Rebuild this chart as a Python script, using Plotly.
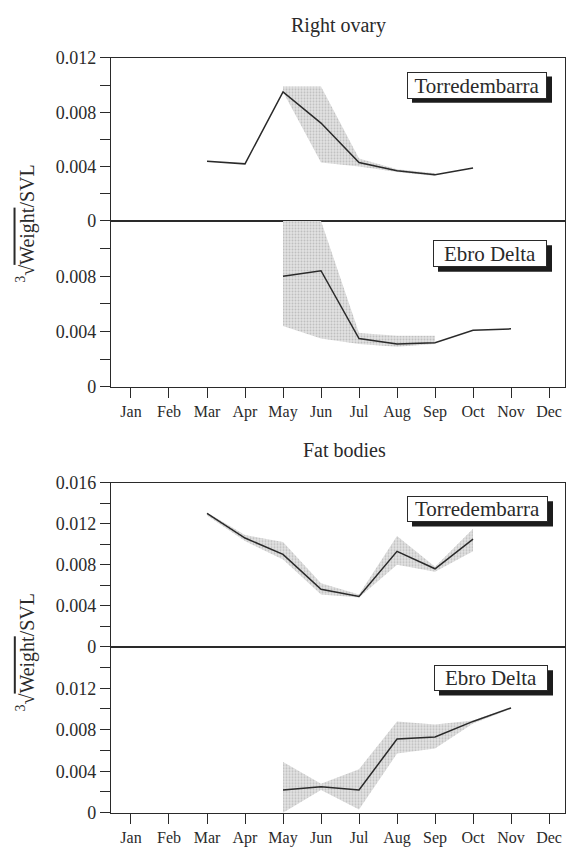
import plotly.graph_objects as go

months = ["Jan", "Feb", "Mar", "Apr", "May", "Jun", "Jul", "Aug", "Sep", "Oct", "Nov", "Dec"]
month_num = list(range(1, 13))

# Right ovary - Torredembarra
ov_torr_x = [3, 4, 5, 6, 7, 8, 9, 10]
ov_torr_mean = [0.0044, 0.0042, 0.0095, 0.0072, 0.0043, 0.0037, 0.0034, 0.0039]
ov_torr_band_x = [5, 6, 7, 8, 9]
ov_torr_lo = [0.0095, 0.0043, 0.0040, 0.0036, 0.0033]
ov_torr_hi = [0.0099, 0.0099, 0.0046, 0.0038, 0.0035]

# Right ovary - Ebro Delta
ov_ebro_x = [5, 6, 7, 8, 9, 10, 11]
ov_ebro_mean = [0.0080, 0.0084, 0.0035, 0.0031, 0.0032, 0.0041, 0.0042]
ov_ebro_band_x = [5, 6, 7, 8, 9]
ov_ebro_lo = [0.0044, 0.0035, 0.0031, 0.0029, 0.0031]
ov_ebro_hi = [0.0120, 0.0120, 0.0039, 0.0037, 0.0037]

# Fat bodies - Torredembarra
fb_torr_x = [3, 4, 5, 6, 7, 8, 9, 10]
fb_torr_mean = [0.0130, 0.0106, 0.0090, 0.0056, 0.0049, 0.0093, 0.0076, 0.0105]
fb_torr_band_x = [3, 4, 5, 6, 7, 8, 9, 10]
fb_torr_lo = [0.0128, 0.0103, 0.0085, 0.0051, 0.0048, 0.0080, 0.0073, 0.0093]
fb_torr_hi = [0.0131, 0.0109, 0.0102, 0.0062, 0.0051, 0.0108, 0.0078, 0.0115]

# Fat bodies - Ebro Delta
fb_ebro_x = [5, 6, 7, 8, 9, 10, 11]
fb_ebro_mean = [0.0022, 0.0025, 0.0022, 0.0071, 0.0073, 0.0088, 0.0101]
fb_ebro_band_x = [5, 6, 7, 8, 9, 10, 11]
fb_ebro_lo = [0.0000, 0.0022, 0.0003, 0.0057, 0.0062, 0.0086, 0.0100]
fb_ebro_hi = [0.0049, 0.0028, 0.0042, 0.0088, 0.0085, 0.0089, 0.0102]

FONT = "Liberation Serif, Times New Roman, serif"
INK = "#2a2a2a"

panels = [
    (ov_torr_x, ov_torr_mean, ov_torr_band_x, ov_torr_lo, ov_torr_hi),
    (ov_ebro_x, ov_ebro_mean, ov_ebro_band_x, ov_ebro_lo, ov_ebro_hi),
    (fb_torr_x, fb_torr_mean, fb_torr_band_x, fb_torr_lo, fb_torr_hi),
    (fb_ebro_x, fb_ebro_mean, fb_ebro_band_x, fb_ebro_lo, fb_ebro_hi),
]

fig = go.Figure()
for i, (x, m, bx, lo, hi) in enumerate(panels, start=1):
    xa = "x" if i == 1 else f"x{i}"
    ya = "y" if i == 1 else f"y{i}"
    fig.add_trace(go.Scatter(
        x=bx + bx[::-1], y=hi + lo[::-1], fill="toself",
        fillcolor="rgba(200,200,200,0.75)",
        fillpattern=dict(shape=".", bgcolor="#e2e2e2", fgcolor="#9a9a9a",
                         size=3, solidity=0.35),
        line=dict(width=0),
        mode="lines", hoverinfo="skip", showlegend=False, xaxis=xa, yaxis=ya))
    fig.add_trace(go.Scatter(
        x=x, y=m, mode="lines", line=dict(color=INK, width=1.5),
        showlegend=False, xaxis=xa, yaxis=ya))

W, H = 575, 853
xl, xr = 111, 565


def px(p):
    return p / W


def py(p):
    return 1 - p / H


ydoms = [(216, 49), (386, 216), (652, 484), (822, 652)]
yranges = [[0, 0.012], [0, 0.012], [0, 0.016], [0, 0.016]]
yticks = [
    ([0, 0.004, 0.008, 0.012], ["0", "0.004", "0.008", "0.012"]),
    ([0, 0.004, 0.008], ["0", "0.004", "0.008"]),
    ([0, 0.004, 0.008, 0.012, 0.016], ["0", "0.004", "0.008", "0.012", "0.016"]),
    ([0, 0.004, 0.008, 0.012], ["0", "0.004", "0.008", "0.012"]),
]

layout = dict(
    width=W, height=H, margin=dict(l=0, r=0, t=0, b=0),
    paper_bgcolor="white", plot_bgcolor="white",
    font=dict(family=FONT, color=INK),
    showlegend=False,
)
for i in range(1, 5):
    xk = "xaxis" if i == 1 else f"xaxis{i}"
    yk = "yaxis" if i == 1 else f"yaxis{i}"
    ya = "y" if i == 1 else f"y{i}"
    xa = "x" if i == 1 else f"x{i}"
    bottom = i in (2, 4)
    layout[xk] = dict(
        domain=[px(xl), px(xr)], range=[0.474, 12.42], anchor=ya,
        tickvals=month_num, ticktext=months,
        ticks="outside" if bottom else "", ticklen=10, tickcolor=INK,
        showticklabels=bottom, tickfont=dict(size=16, family=FONT, color=INK),
        showline=True, linecolor=INK, linewidth=1.2, mirror=True,
        showgrid=False, zeroline=False, fixedrange=True,
    )
    y0, y1 = ydoms[i - 1]
    tv, tt = yticks[i - 1]
    layout[yk] = dict(
        domain=[py(y0), py(y1)], range=yranges[i - 1], anchor=xa,
        tickvals=tv, ticktext=tt, ticks="outside", ticklen=10, tickcolor=INK,
        minor=dict(tickvals=[v / 1000 for v in range(2, 17, 4)], ticks="outside",
                   ticklen=10, tickcolor=INK, showgrid=False),
        tickfont=dict(size=18, family=FONT, color=INK),
        showline=True, linecolor=INK, linewidth=1.2, mirror=True,
        showgrid=False, zeroline=False, fixedrange=True,
    )

fig.update_layout(**layout)

ann = []
ann.append(dict(text="Right ovary", x=px(338), y=py(16), xref="paper", yref="paper",
                xanchor="center", yanchor="middle",
                showarrow=False, font=dict(size=20, family=FONT, color=INK)))
ann.append(dict(text="Fat bodies", x=px(344), y=py(451), xref="paper", yref="paper",
                xanchor="center", yanchor="middle",
                showarrow=False, font=dict(size=20, family=FONT, color=INK)))

ylabel = "<sup>3</sup>√<span style='text-decoration:overline'>Weight</span>/SVL"
for cy in (219, 658):
    ann.append(dict(text=ylabel, x=px(26), y=py(cy), xref="paper", yref="paper",
                    xanchor="center", yanchor="middle",
                    textangle=-90, showarrow=False,
                    font=dict(size=20, family=FONT, color=INK)))

# legend boxes: text, left, top, right, bottom (page pixels)
boxes = [
    ("Torredembarra", 407, 63, 547, 90),
    ("Ebro Delta", 433, 236, 547, 263),
    ("Torredembarra", 407, 498, 548, 524),
    ("Ebro Delta", 434, 671, 548, 697),
]
shapes = []
for text, x0, y0, x1, y1 in boxes:
    shapes.append(dict(type="rect", xref="paper", yref="paper",
                       x0=px(x0 + 5), x1=px(x1 + 5), y0=py(y1 + 5), y1=py(y0 + 5),
                       fillcolor="#1c1c1c", line=dict(width=0), layer="above"))
    ann.append(dict(text=text, x=px(x0), y=py(y0), xref="paper", yref="paper",
                    xanchor="left", yanchor="top", showarrow=False,
                    width=x1 - x0 - 2, height=y1 - y0 - 2, borderpad=0,
                    borderwidth=1, bordercolor=INK, bgcolor="white",
                    align="center", valign="middle",
                    font=dict(size=21, family=FONT, color=INK)))

fig.update_layout(annotations=ann, shapes=shapes)
fig.write_html("out.html",
               config={"displayModeBar": False},
               post_script="document.body.style.margin='0';document.body.style.overflow='hidden';")
